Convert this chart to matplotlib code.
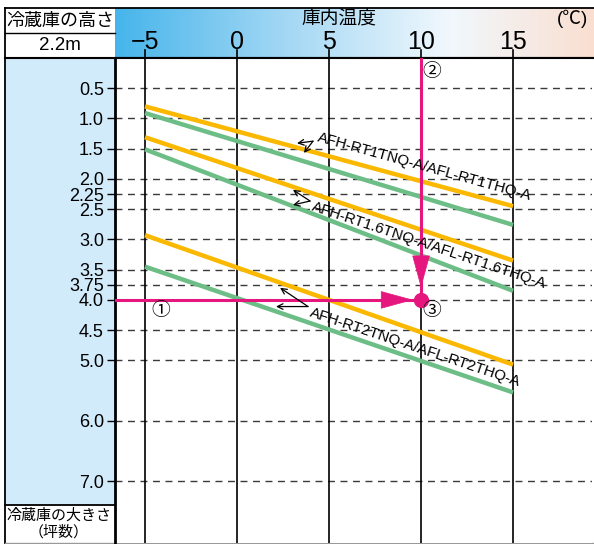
import numpy as np
import matplotlib
matplotlib.use("Agg")
import matplotlib.pyplot as plt
import matplotlib.transforms as mtransforms
from matplotlib.patches import Rectangle
from matplotlib.colors import LinearSegmentedColormap

plt.rcParams['font.family'] = ['Liberation Sans', 'Noto Sans CJK JP']

# ---------------- data ----------------
temps = [-5, 0, 5, 10, 15]
temp_labels = ['−5', '0', '5', '10', '15']
size_ticks = [0.5, 1.0, 1.5, 2.0, 2.25, 2.5, 3.0, 3.5, 3.75, 4.0, 4.5, 5.0, 6.0, 7.0]
size_labels = ['0.5', '1.0', '1.5', '2.0', '2.25', '2.5', '3.0', '3.5', '3.75', '4.0', '4.5', '5.0', '6.0', '7.0']

line_temps = [-5, 15]
orange_rt1 = [0.80, 2.45]
green_rt1 = [0.91, 2.76]
orange_rt16 = [1.31, 3.35]
green_rt16 = [1.51, 3.85]
orange_rt2 = [2.93, 5.07]
green_rt2 = [3.45, 5.53]

model_labels = ['AFH-RT1TNQ-A/AFL-RT1THQ-A',
                'AFH-RT1.6TNQ-A/AFL-RT1.6THQ-A',
                'AFH-RT2TNQ-A/AFL-RT2THQ-A']

example_temp = 10
example_size = 4.0

ORANGE = '#fbb800'
GREEN = '#6cbd86'
PINK = '#e5177e'

W, H = 594, 544
fig = plt.figure(figsize=(W / 100, H / 100), dpi=100)

# overlay axes in pixel coordinates for frame/header
ov = fig.add_axes([0, 0, 1, 1], zorder=0)
ov.set_xlim(0, W)
ov.set_ylim(H, 0)
ov.axis('off')

# left blue column
ov.add_patch(Rectangle((5, 58), 110, 447, facecolor='#d2ebfa', edgecolor='none'))
# header gradient
cmap = LinearSegmentedColormap.from_list('hdr', [(0.0, '#46b5eb'), (0.35, '#a2d7f4'),
                                                 (0.7, '#f1f8fd'), (1.0, '#fadfd1')])
grad = np.linspace(0, 1, 256)[None, :]
ov.imshow(grad, extent=(115, W, 58, 8), aspect='auto', cmap=cmap, zorder=0.5)
# frame lines
k = 'black'
ov.plot([5, W], [8, 8], color=k, lw=1.3)
ov.plot([5, 5], [8, H], color=k, lw=1.3)
ov.plot([5, 115], [33, 33], color=k, lw=1.0)
ov.plot([5, W], [58, 58], color=k, lw=1.5)
ov.plot([5, 115], [505, 505], color=k, lw=1.3)
ov.plot([5, W], [543, 543], color='#999999', lw=1.0)

ov.text(60, 21, '冷蔵庫の高さ', ha='center', va='center', fontsize=13, family='Noto Sans CJK JP')
ov.text(60, 46, '2.2m', ha='center', va='center', fontsize=13.5)
ov.text(339, 19, '庫内温度', ha='center', va='center', fontsize=13.5, family='Noto Sans CJK JP')
ov.text(573, 19, '(℃)', ha='center', va='center', fontsize=13.5, family=['Liberation Sans', 'Noto Sans CJK JP'])
ov.text(59, 516, '冷蔵庫の大きさ', ha='center', va='center', fontsize=10.8, family='Noto Sans CJK JP')
ov.text(59, 532, '（坪数）', ha='center', va='center', fontsize=10.8, family='Noto Sans CJK JP')

# main axes
ax = fig.add_axes([115 / W, 1 / H, (592 - 115) / W, (543 - 58) / H], zorder=2)
ax.set_xlim(-6.63, 19.29)
ax.set_ylim(8.02, 0)
ax.set_facecolor('white')
for s in ['right', 'bottom']:
    ax.spines[s].set_visible(False)
ax.spines['left'].set_linewidth(2.0)
ax.spines['top'].set_linewidth(1.5)
ax.set_xticks([])
ax.set_yticks(size_ticks)
ax.set_yticklabels(size_labels)
ax.tick_params(axis='y', direction='out', length=6, width=1.0, labelsize=13, pad=2)
ax.grid(axis='y', linestyle=(0, (5, 4)), color='#3a3a3a', lw=1.0)
ax.set_axisbelow(True)
for t in temps:
    ax.axvline(t, color='black', lw=1.2, zorder=1)

# header tick labels and ticks (x in data, y in pixels)
btr = mtransforms.blended_transform_factory(ax.transData, ov.transData)
for t, lab in zip(temps, temp_labels):
    ov.text(t, 42, lab, transform=btr, ha='center', va='center', fontsize=18)
    ov.plot([t, t], [50, 58], transform=btr, color='black', lw=1.2)

# model lines
for yv, c in [(orange_rt1, ORANGE), (green_rt1, GREEN), (orange_rt16, ORANGE),
              (green_rt16, GREEN), (orange_rt2, ORANGE), (green_rt2, GREEN)]:
    ax.plot(line_temps, yv, color=c, lw=3.2, solid_capstyle='butt', zorder=3)

# labels with pointer arrows
label_pos = [(4.40, 1.31, -15.5), (4.08, 2.46, -18.5), (3.97, 4.20, -18.5)]
arrow_src = [(4.13, 1.375), (3.97, 2.365), (3.86, 4.11)]
arrow_tips = [[(3.26, 1.41), (3.64, 1.57)],
              [(3.04, 2.18), (3.04, 2.43)],
              [(2.34, 3.80), (2.12, 4.11)]]
for lab, (lx, ly, rot), src, tips in zip(model_labels, label_pos, arrow_src, arrow_tips):
    ax.text(lx, ly, lab, rotation=rot, rotation_mode='anchor', ha='left', va='center',
            fontsize=10.8, zorder=5)
    for tip in tips:
        ax.annotate('', xy=tip, xytext=src,
                    arrowprops=dict(arrowstyle='->,head_length=0.4,head_width=0.2', color='black',
                                    lw=0.9, shrinkA=0, shrinkB=0), zorder=5)

# example path (pink)
ax.plot([example_temp, example_temp], [0, example_size], color=PINK, lw=2.2, zorder=4)
ax.plot([-6.63, example_temp], [example_size, example_size], color=PINK, lw=2.2, zorder=4)
ax.annotate('', xy=(example_temp, 3.80), xytext=(example_temp, 3.3),
            arrowprops=dict(arrowstyle='-|>,head_length=1.1,head_width=0.3', color=PINK,
                            lw=0.5, shrinkA=0, shrinkB=0, mutation_scale=20), zorder=4)
ax.annotate('', xy=(9.57, example_size), xytext=(8.0, example_size),
            arrowprops=dict(arrowstyle='-|>,head_length=1.1,head_width=0.3', color=PINK,
                            lw=0.5, shrinkA=0, shrinkB=0, mutation_scale=20), zorder=4)
ax.plot([example_temp], [example_size], 'o', color=PINK, ms=10, zorder=6)

circ_font = 'Noto Sans CJK JP'
ax.text(temps[0] + 0.85, example_size + 0.18, '①', ha='center', va='center', fontsize=13.5,
        family=circ_font, zorder=6)
ax.text(example_temp + 0.6, 0.22, '②', ha='center', va='center', fontsize=13.5,
        family=circ_font, zorder=6)
ax.text(example_temp + 0.6, example_size + 0.18, '③', ha='center', va='center', fontsize=13.5,
        family=circ_font, zorder=6)

fig.savefig('out.png', dpi=100)
